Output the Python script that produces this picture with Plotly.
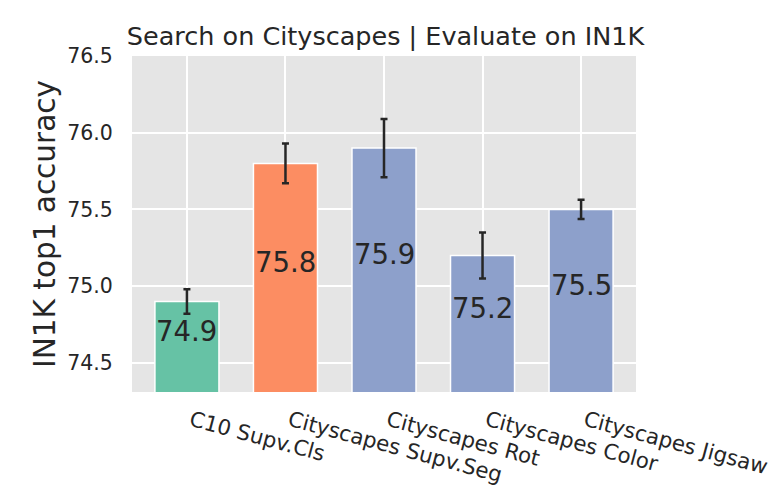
import plotly.graph_objects as go

categories = ["C10 Supv.Cls", "Cityscapes Supv.Seg", "Cityscapes Rot", "Cityscapes Color", "Cityscapes Jigsaw"]
accuracy = [74.9, 75.8, 75.9, 75.2, 75.5]
errors = [0.08, 0.13, 0.19, 0.15, 0.063]
colors = ["#66c2a5", "#fc8d62", "#8da0cb", "#8da0cb", "#8da0cb"]
label_base = 74.52
yticks = [74.5, 75.0, 75.5, 76.0, 76.5]

xs = list(range(len(categories)))
FONT = "DejaVu Sans"
TXT = "#262626"

fig = go.Figure()
fig.add_trace(go.Bar(
    x=xs, y=accuracy, width=0.65,
    marker=dict(color=colors, line=dict(color="white", width=1.5)),
    error_y=dict(type="data", array=errors, visible=True, color=TXT, thickness=2.5, width=3.5),
    showlegend=False,
))

for x, v in zip(xs, accuracy):
    fig.add_annotation(x=x, y=(v + label_base) / 2, text=f"{v:.1f}", showarrow=False,
                       font=dict(family=FONT, size=27.5, color=TXT), xref="x", yref="y")

fig.update_layout(
    width=779, height=488,
    margin=dict(l=124, r=151, t=48, b=104, autoexpand=False),
    paper_bgcolor="white", plot_bgcolor="#e5e5e5",
    font=dict(family=FONT, color=TXT),
    title=dict(text="Search on Cityscapes | Evaluate on IN1K", x=0.503, xref="paper",
               y=1, yref="paper", yanchor="bottom", pad=dict(b=11),
               font=dict(family=FONT, size=25.5, color=TXT)),
    bargap=0.35,
)
fig.update_xaxes(
    range=[-0.5575, 4.5575], tickmode="array", tickvals=xs,
    ticktext=["\u2009" + c for c in categories],
    tickangle=15, tickfont=dict(family=FONT, size=21.3, color=TXT),
    showgrid=True, gridcolor="white", gridwidth=1.5, zeroline=False,
    ticks="outside", ticklen=6, tickcolor="rgba(0,0,0,0)", showline=False, automargin=False,
)
fig.update_yaxes(
    range=[74.31, 76.5], tickmode="array", tickvals=yticks, ticktext=[f"{t:.1f}" for t in yticks],
    tickfont=dict(family=FONT, size=20.5, color=TXT),
    showgrid=True, gridcolor="white", gridwidth=1.5, zeroline=False,
    ticks="outside", ticklen=14, tickcolor="rgba(0,0,0,0)", showline=False, automargin=False,
    title=dict(text="IN1K top1 accuracy", font=dict(family=FONT, size=29.5, color=TXT), standoff=2),
)

fig.write_html("out.html")
